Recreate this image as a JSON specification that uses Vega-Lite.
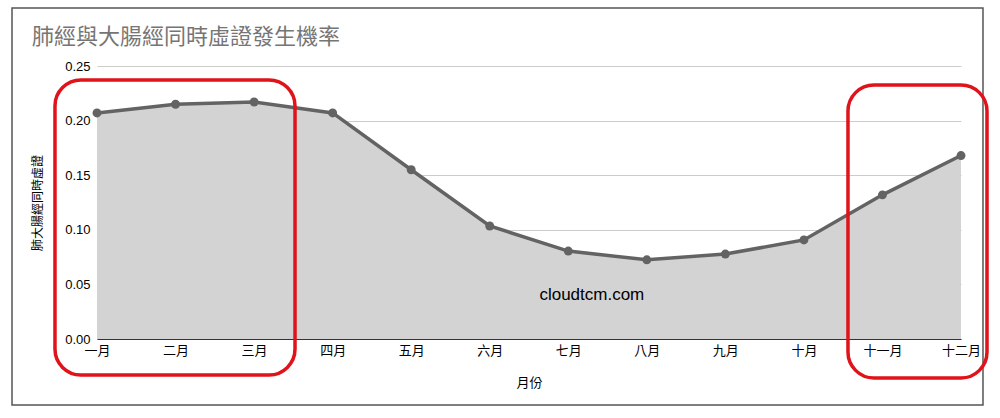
{
  "$schema": "https://vega.github.io/schema/vega-lite/v6.json",
  "description": "肺經與大腸經同時虛證發生機率",
  "width": 864,
  "height": 273,
  "autosize": {"type": "none"},
  "padding": {"left": 97, "top": 66, "right": 39, "bottom": 79},
  "background": "white",
  "title": {
    "text": "肺經與大腸經同時虛證發生機率",
    "anchor": "start",
    "frame": "group",
    "dx": -65,
    "dy": 56,
    "offset": 14,
    "fontSize": 22,
    "fontWeight": "normal",
    "color": "#757575",
    "font": "Noto Sans CJK TC"
  },
  "config": {
    "font": "Liberation Sans, Noto Sans CJK TC",
    "view": {"stroke": null}
  },
  "datasets": {
    "rates": [
      {"idx": 0, "月份": "一月", "機率": 0.207},
      {"idx": 1, "月份": "二月", "機率": 0.215},
      {"idx": 2, "月份": "三月", "機率": 0.217},
      {"idx": 3, "月份": "四月", "機率": 0.207},
      {"idx": 4, "月份": "五月", "機率": 0.155},
      {"idx": 5, "月份": "六月", "機率": 0.1035},
      {"idx": 6, "月份": "七月", "機率": 0.0805},
      {"idx": 7, "月份": "八月", "機率": 0.0725},
      {"idx": 8, "月份": "九月", "機率": 0.0778},
      {"idx": 9, "月份": "十月", "機率": 0.0907},
      {"idx": 10, "月份": "十一月", "機率": 0.132},
      {"idx": 11, "月份": "十二月", "機率": 0.168}
    ],
    "frame": [
      {"x0": -1.082, "x1": 11.28, "y0": -0.0604, "y1": 0.3031}
    ],
    "boxes": [
      {"x0": -0.535, "x1": 2.521, "y0": -0.033, "y1": 0.2372},
      {"x0": 9.561, "x1": 11.331, "y0": -0.0357, "y1": 0.2326}
    ],
    "mark_text": [
      {"x": 6.3, "y": 0.04, "label": "cloudtcm.com"}
    ]
  },
  "layer": [
    {
      "data": {"name": "frame"},
      "mark": {"type": "rect", "fill": null, "stroke": "#555555", "strokeWidth": 1.5, "clip": false},
      "encoding": {
        "x": {
          "field": "x0",
          "type": "quantitative",
          "scale": {"domain": [0, 11], "nice": false, "zero": false},
          "axis": {
            "title": "月份",
            "values": [0, 1, 2, 3, 4, 5, 6, 7, 8, 9, 10, 11],
            "labelExpr": "['一月','二月','三月','四月','五月','六月','七月','八月','九月','十月','十一月','十二月'][datum.value]",
            "grid": false,
            "ticks": false,
            "domainColor": "#333333",
            "domainWidth": 1,
            "labelFontSize": 13,
            "labelColor": "#000000",
            "labelPadding": 5,
            "labelFlush": false,
            "titleFontSize": 13,
            "titleFontWeight": "normal",
            "titleColor": "#000000",
            "titlePadding": 19
          }
        },
        "x2": {"field": "x1"},
        "y": {
          "field": "y0",
          "type": "quantitative",
          "scale": {"domain": [0, 0.25], "nice": false},
          "axis": {
            "title": "肺大腸經同時虛證",
            "values": [0, 0.05, 0.1, 0.15, 0.2, 0.25],
            "format": ".2f",
            "domain": false,
            "ticks": false,
            "gridColor": "#cccccc",
            "labelFontSize": 13,
            "labelColor": "#000000",
            "labelPadding": 7,
            "labelFlush": false,
            "titleFontSize": 12,
            "titleFontWeight": "normal",
            "titleColor": "#000000",
            "titlePadding": 20
          }
        },
        "y2": {"field": "y1"}
      }
    },
    {
      "data": {"name": "rates"},
      "mark": {"type": "area", "color": "#d3d3d3", "opacity": 1},
      "encoding": {
        "x": {"field": "idx", "type": "quantitative"},
        "y": {"field": "機率", "type": "quantitative"}
      }
    },
    {
      "data": {"name": "rates"},
      "mark": {"type": "line", "color": "#636363", "strokeWidth": 3.5, "point": {"filled": true, "color": "#636363", "size": 80}},
      "encoding": {
        "x": {"field": "idx", "type": "quantitative"},
        "y": {"field": "機率", "type": "quantitative"}
      }
    },
    {
      "data": {"name": "mark_text"},
      "mark": {"type": "text", "fontSize": 17, "color": "#000000", "font": "Liberation Sans"},
      "encoding": {
        "x": {"field": "x", "type": "quantitative"},
        "y": {"field": "y", "type": "quantitative"},
        "text": {"field": "label"}
      }
    },
    {
      "data": {"name": "boxes"},
      "mark": {"type": "rect", "fill": null, "stroke": "#e0121a", "strokeWidth": 3.5, "cornerRadius": 26, "clip": false},
      "encoding": {
        "x": {"field": "x0", "type": "quantitative"},
        "x2": {"field": "x1"},
        "y": {"field": "y0", "type": "quantitative"},
        "y2": {"field": "y1"}
      }
    }
  ]
}
